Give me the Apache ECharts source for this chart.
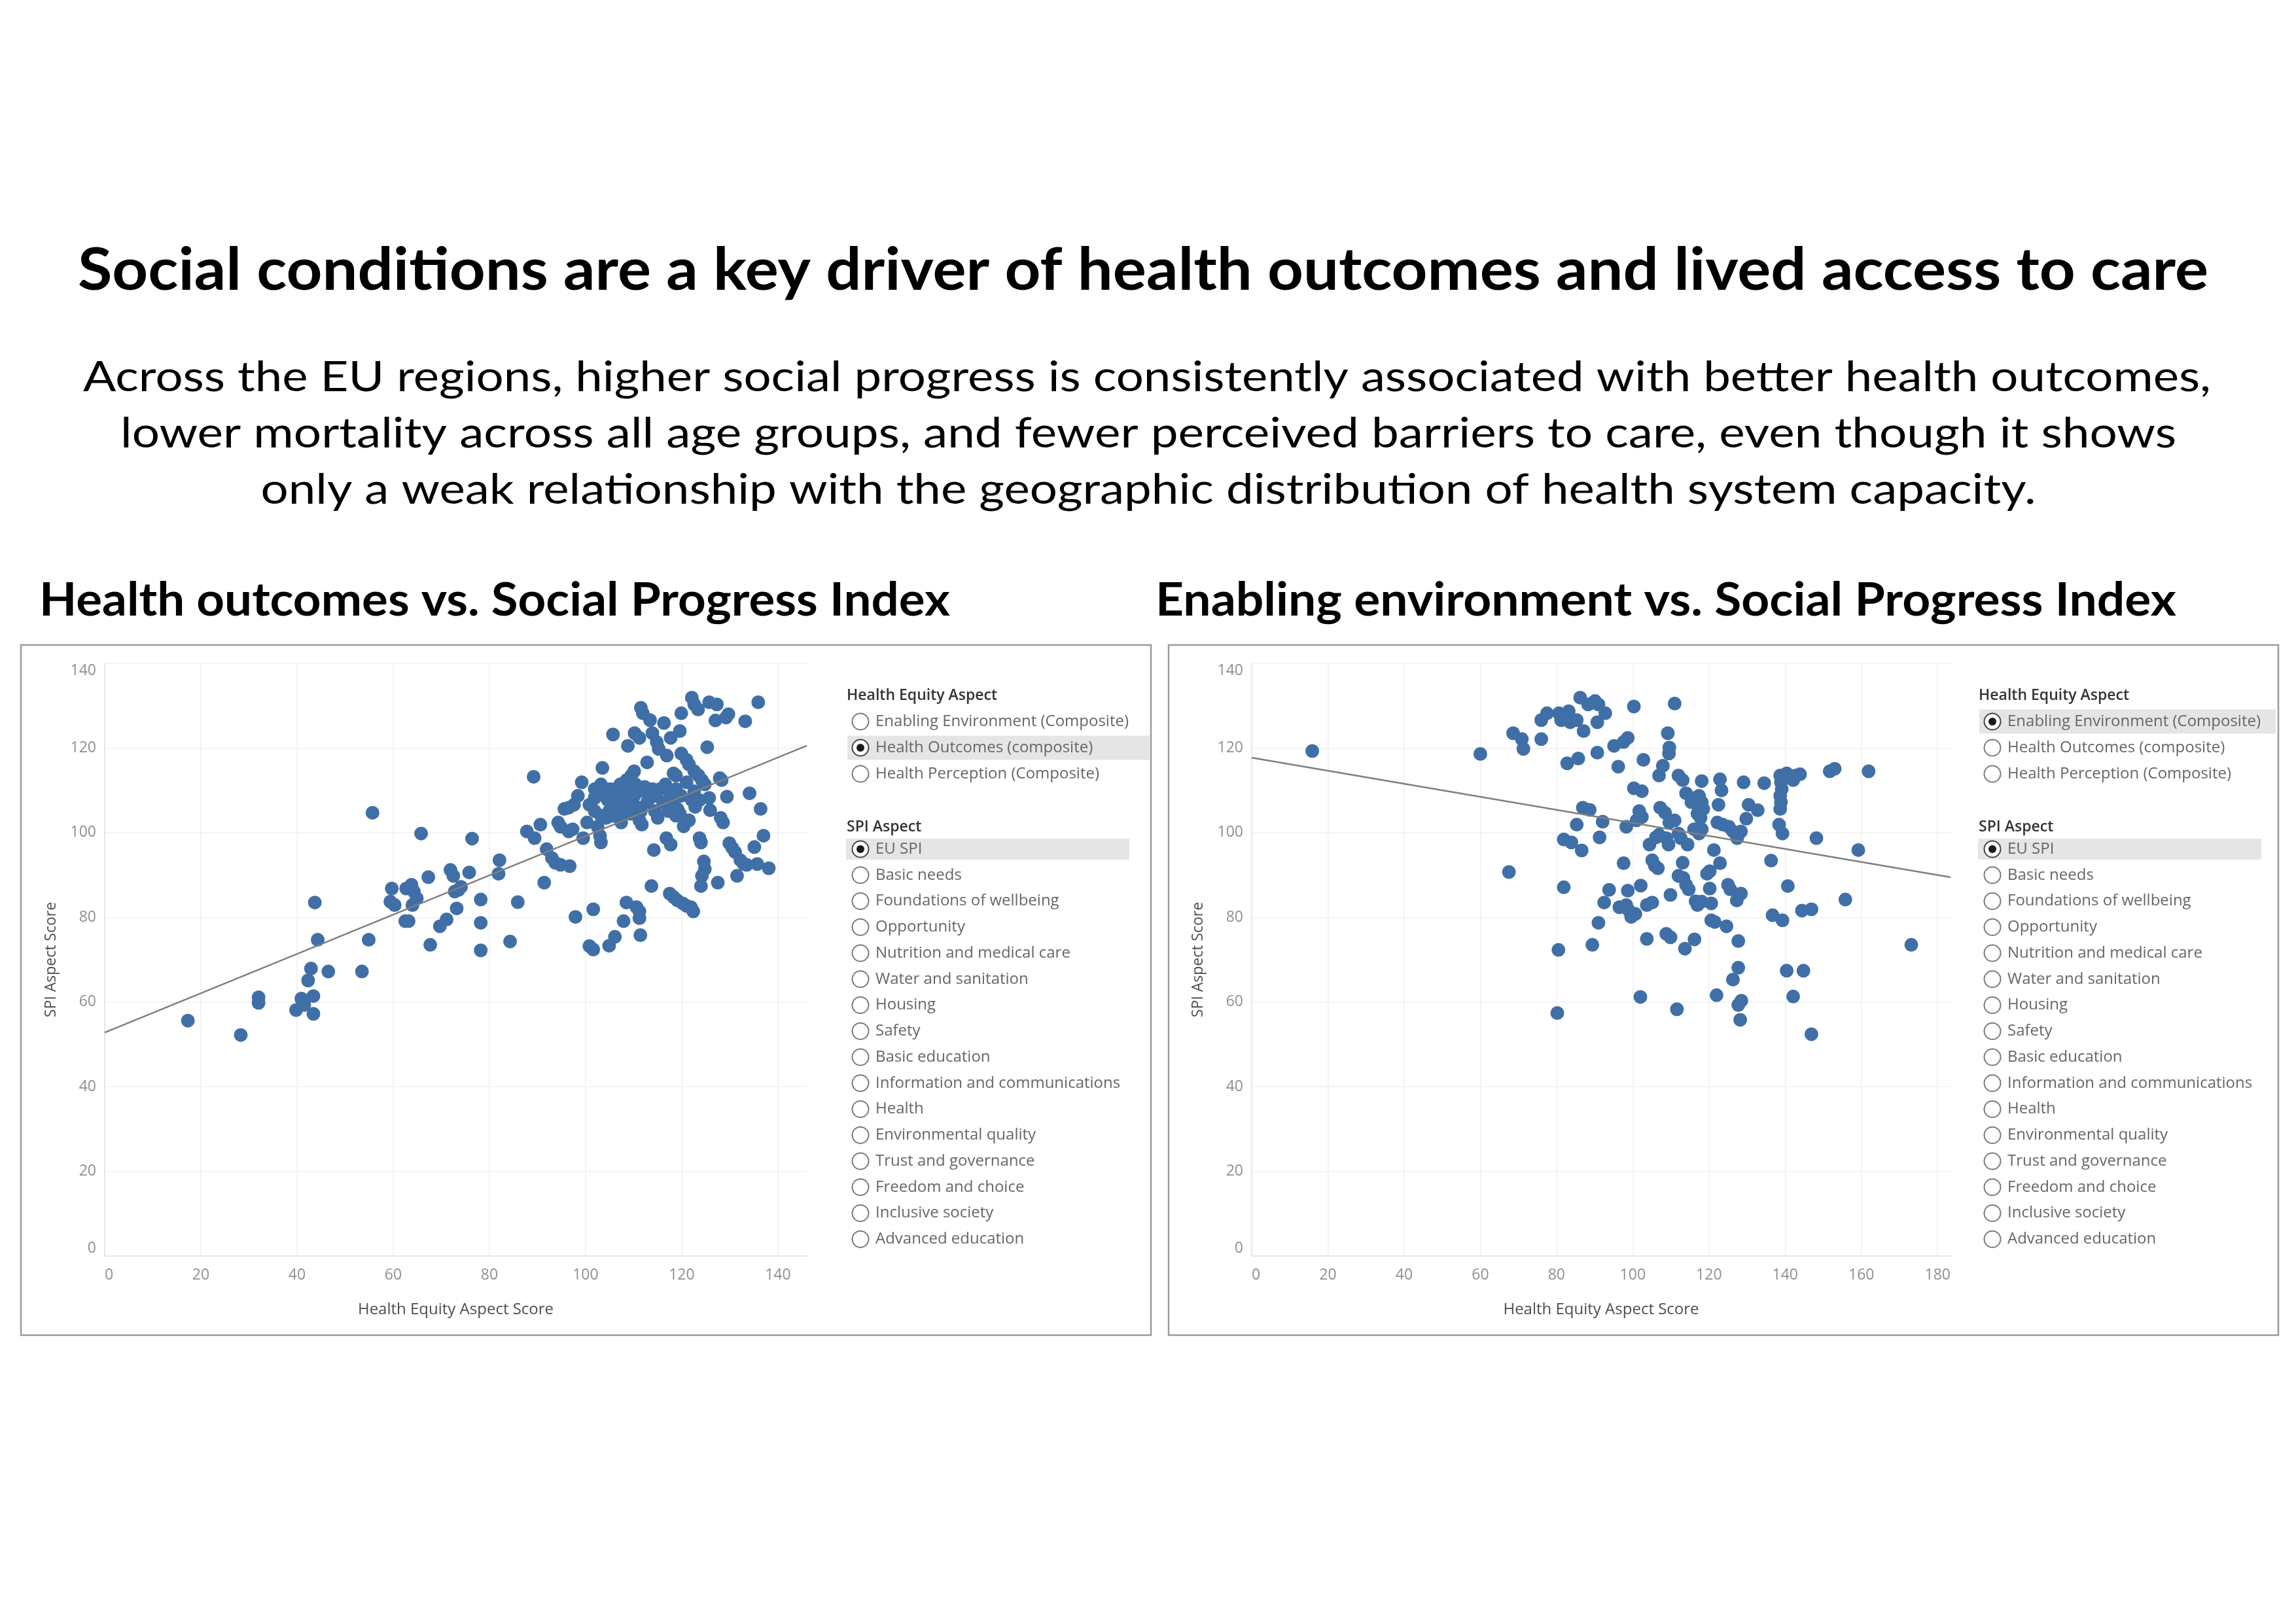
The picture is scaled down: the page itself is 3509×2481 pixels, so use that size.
<!DOCTYPE html>
<html>
<head>
<meta charset="utf-8">
<script src="https://cdn.jsdelivr.net/npm/echarts@6/dist/echarts.min.js"></script>
<style>
html,body{margin:0;padding:0;background:#fff;}
#main{width:3509px;height:2481px;}
</style>
</head>
<body>
<div id="main"></div>
<script>
// ---------------- DATA ----------------
const mainTitle = 'Social conditions are a key driver of health outcomes and lived access to care';
const subtitleLines = [
  'Across the EU regions, higher social progress is consistently associated with better health outcomes,',
  'lower mortality across all age groups, and fewer perceived barriers to care, even though it shows',
  'only a weak relationship with the geographic distribution of health system capacity.'
];
const leftHeader = 'Health outcomes vs. Social Progress Index';
const rightHeader = 'Enabling environment vs. Social Progress Index';
const xAxisTitle = 'Health Equity Aspect Score';
const yAxisTitle = 'SPI Aspect Score';

const equityAspectTitle = 'Health Equity Aspect';
const equityAspects = ['Enabling Environment (Composite)', 'Health Outcomes (composite)', 'Health Perception (Composite)'];
const spiAspectTitle = 'SPI Aspect';
const spiAspects = ['EU SPI', 'Basic needs', 'Foundations of wellbeing', 'Opportunity', 'Nutrition and medical care',
  'Water and sanitation', 'Housing', 'Safety', 'Basic education', 'Information and communications', 'Health',
  'Environmental quality', 'Trust and governance', 'Freedom and choice', 'Inclusive society', 'Advanced education'];
const leftSelectedEquity = 1;   // Health Outcomes
const rightSelectedEquity = 0;  // Enabling Environment
const selectedSpi = 0;          // EU SPI

const yTicks = [0, 20, 40, 60, 80, 100, 120, 140];
const leftXTicks = [0, 20, 40, 60, 80, 100, 120, 140];
const rightXTicks = [0, 20, 40, 60, 80, 100, 120, 140, 160, 180];
const leftXMax = 146;
const rightXMax = 183.4;
const yMax = 140;

// trend lines [intercept, slope]
const leftTrend = [52.8, 0.464];
const rightTrend = [117.7, -0.154];

// [Health Equity Aspect Score (Health Outcomes), SPI Aspect Score]
const healthOutcomesPoints = [
  [17.3,55.6],[28.3,52.2],[32.0,61.1],[32.0,59.8],[39.8,58.1],[40.9,60.8],[41.5,59.3],[42.3,65.1],[42.9,67.9],[43.4,61.4],
  [43.4,57.2],[43.7,83.5],[44.3,74.7],[46.5,67.2],[53.5,67.2],[54.9,74.7],[55.7,104.7],[59.7,86.8],[59.4,83.7],[60.3,82.9],
  [62.7,86.8],[62.5,79.1],[63.2,79.1],[63.8,87.7],[64.3,86.1],[64.9,84.5],[64.0,82.9],[65.8,99.8],[67.3,89.5],[67.7,73.5],
  [69.7,77.9],[71.1,79.5],[71.9,91.2],[72.5,89.8],[72.8,86.1],[73.6,86.5],[74.1,87.2],[73.2,82.1],[75.8,90.6],[76.4,98.6],
  [78.2,84.2],[78.2,78.7],[78.2,72.2],[81.9,90.3],[82.1,93.5],[84.3,74.3],[85.9,83.6],[87.8,100.3],[89.2,113.2],[89.4,98.7],
  [90.6,101.9],[91.4,88.2],[91.9,96.1],[93.0,94.0],[93.7,92.9],[94.8,92.4],[94.3,102.4],[94.8,101.4],[95.6,105.6],[96.5,105.9],
  [97.6,106.6],[96.7,92.1],[97.9,80.1],[96.5,100.3],[97.3,100.8],[98.4,108.7],[99.2,111.9],[99.5,98.7],[100.3,102.4],[100.8,73.2],
  [101.6,72.4],[101.6,81.9],[101.9,108.2],[102.5,101.4],[103.0,99.3],[103.2,97.7],[103.5,115.3],[103.2,111.4],[104.1,110.3],[104.6,107.7],
  [104.9,105.1],[104.9,73.3],[106.1,75.4],[105.7,123.2],[106.3,107.2],[106.8,105.6],[107.4,108.2],[107.4,102.4],[107.9,79.1],[108.5,83.5],
  [108.8,120.5],[108.5,112.4],[109.0,109.8],[109.5,113.5],[109.8,108.2],[110.1,114.5],[110.4,111.4],[110.6,82.4],[111.2,81.4],[111.2,79.8],
  [111.4,75.8],[111.5,129.5],[111.9,128.2],[110.2,123.5],[111.2,122.4],[111.2,102.9],[111.7,101.9],[111.5,105.1],[112.8,116.6],[113.4,126.6],
  [113.9,110.3],[114.4,108.7],[113.7,87.4],[114.2,95.9],[113.9,123.5],[114.8,121.4],[115.2,119.8],[114.4,105.1],[115.0,103.5],[116.3,125.9],
  [116.8,98.7],[117.7,97.2],[117.5,85.6],[118.3,84.8],[119.1,84.0],[116.9,118.2],[117.7,122.4],[118.3,114.0],[118.8,113.5],[119.1,105.6],
  [118.8,104.0],[119.6,124.0],[119.9,128.2],[120.2,83.3],[121.0,82.7],[120.4,101.5],[119.9,118.7],[121.0,117.2],[121.5,116.1],[121.9,82.4],
  [122.4,81.4],[122.1,131.9],[122.6,130.3],[123.4,129.1],[122.8,106.1],[122.6,114.5],[123.5,113.5],[124.2,112.4],[124.8,111.4],[123.7,98.7],
  [124.0,97.7],[124.6,93.2],[124.8,91.4],[124.2,89.8],[124.0,87.4],[125.3,120.2],[125.7,130.8],[125.7,108.2],[125.9,105.3],[127.3,130.3],
  [127.0,126.5],[127.5,88.2],[127.9,112.9],[128.3,112.4],[128.1,103.5],[128.6,102.4],[129.2,127.2],[129.7,128.0],[129.4,108.5],[129.9,97.5],
  [130.5,96.4],[131.1,95.4],[131.5,89.8],[132.2,93.5],[132.9,92.6],[133.5,92.4],[133.2,126.3],[134.1,109.3],[135.1,96.6],[135.7,92.6],
  [135.9,130.8],[136.4,105.6],[137.0,99.3],[138.1,91.6],
  [101.9,110.3],[102.8,109.3],[103.9,108.7],[105.2,110.3],[106.3,109.8],[107.2,111.4],[108.2,108.7],[109.0,107.2],[110.1,108.7],[111.2,109.8],
  [112.3,110.8],[113.4,108.2],[115.5,110.3],[116.6,111.4],[117.7,108.7],[118.8,110.3],[119.9,108.7],[121.0,111.9],[122.6,109.8],[123.7,107.7],
  [100.8,106.6],[101.9,105.1],[103.2,104.0],[104.3,103.5],[105.7,104.0],[107.4,105.1],[109.3,104.5],[110.6,106.1],[112.8,107.2],[116.1,107.2],
  [117.2,105.1],[118.3,107.2],[119.6,104.5],[121.5,102.9],[122.1,107.7]
];

// [Health Equity Aspect Score (Enabling Environment), SPI Aspect Score]
const enablingEnvironmentPoints = [
  [15.9,119.3],[60.0,118.6],[67.5,90.7],[68.6,123.5],[70.9,122.1],[71.3,119.8],[76.0,122.1],[76.0,126.6],[77.5,128.2],[80.6,128.2],
  [81.2,126.6],[83.2,128.7],[83.6,126.1],[85.3,126.6],[86.2,131.9],[87.1,124.0],[82.8,116.4],[85.7,117.5],[88.3,130.3],[90.1,131.1],
  [91.0,130.3],[90.7,126.1],[92.8,128.2],[90.7,118.9],[80.5,72.3],[80.2,57.4],[81.9,87.1],[81.9,98.4],[83.9,97.7],[85.3,101.9],
  [86.9,105.9],[88.7,105.4],[86.6,95.8],[89.4,73.5],[91.3,98.9],[92.1,102.6],[91.0,78.7],[92.5,83.5],[93.8,86.5],[95.1,120.5],
  [96.2,115.6],[97.6,121.4],[98.7,122.4],[97.6,92.8],[98.3,101.4],[96.5,82.4],[98.3,82.9],[99.0,81.6],[99.6,80.1],[100.7,80.8],
  [98.7,86.3],[100.3,129.8],[100.3,110.5],[102.4,109.8],[101.7,105.1],[101.0,102.9],[102.4,103.7],[102.1,87.5],[102.0,61.2],[102.8,117.2],
  [103.7,74.9],[104.4,97.2],[105.1,93.5],[105.8,92.2],[106.6,91.6],[103.7,82.9],[105.1,83.5],[106.1,98.9],[106.9,99.5],[106.9,113.5],
  [107.2,105.9],[108.5,104.7],[107.9,115.8],[108.8,98.7],[109.4,97.2],[109.2,123.5],[109.6,120.1],[109.5,118.7],[108.8,76.1],[109.9,75.3],
  [109.9,85.3],[109.6,102.4],[111.0,102.9],[111.0,130.5],[111.6,58.3],[112.0,99.8],[112.6,98.7],[112.0,113.5],[113.1,112.4],[112.0,89.8],
  [113.3,89.3],[114.0,87.7],[114.7,86.6],[113.1,92.9],[113.7,72.6],[114.0,109.3],[114.4,97.2],[115.4,107.2],[116.5,108.2],[117.4,108.7],
  [118.1,107.2],[118.5,105.6],[117.0,104.5],[117.8,103.5],[116.1,100.8],[116.2,74.8],[116.5,83.8],[117.0,82.9],[118.1,83.7],[118.1,112.2],
  [117.4,99.8],[118.1,100.8],[119.5,90.3],[120.2,90.9],[120.2,86.8],[120.6,83.3],[120.6,79.3],[121.5,78.9],[121.3,95.9],[122.0,61.6],
  [122.2,102.4],[123.6,101.9],[122.5,106.6],[122.9,112.6],[123.3,110.0],[122.9,92.8],[124.6,77.9],[125.0,87.7],[125.6,86.6],[125.2,101.4],
  [126.3,100.3],[127.4,98.7],[128.4,100.3],[127.7,99.6],[126.3,65.3],[127.3,84.0],[128.4,85.6],[127.7,74.4],[127.7,68.1],[127.7,59.3],
  [128.5,60.3],[128.2,55.8],[129.1,111.9],[129.8,103.3],[130.4,106.6],[132.8,105.3],[134.5,111.7],[136.3,93.4],[136.7,80.5],[138.7,113.5],
  [138.9,111.9],[139.1,110.3],[138.7,108.7],[138.9,107.2],[138.7,105.6],[138.4,101.9],[139.3,99.8],[139.3,79.3],[140.4,114.0],[142.1,112.4],
  [142.8,113.5],[143.9,113.8],[140.7,87.4],[140.4,67.4],[142.1,61.3],[144.4,81.6],[146.9,81.9],[144.8,67.4],[146.9,52.4],[148.2,98.7],
  [151.7,114.5],[153.0,115.1],[155.8,84.2],[159.2,95.9],[161.9,114.5],[173.1,73.5]
];

// ---------------- STYLE / LAYOUT ----------------
const DOT = '#3f6fa6';
const TREND = '#7f7f7f';
const GRIDLINE = '#f3f3f3';
const TICKCOL = '#8f8f8f';
const AXTITLE = '#4d4d4d';
const UIFONT = 'Open Sans';
const HEADFONT = 'Lato';

const cv = document.createElement('canvas').getContext('2d');
function fitScale(text, weight, size, family, target) {
  cv.font = weight + ' ' + size + 'px "' + family + '"';
  const w = cv.measureText(text).width;
  return w > 0 ? target / w : 1;
}
function bigText(text, x, y, weight, size, targetW, align) {
  return {
    type: 'text', x: x, y: y, scaleX: fitScale(text, weight, size, HEADFONT, targetW), z: 10,
    style: {
      text: text, fill: '#000', fontFamily: HEADFONT, fontWeight: weight, fontSize: size,
      align: align, verticalAlign: 'middle', textAlign: align, textVerticalAlign: 'middle'
    }
  };
}

const graphics = [];
// main title and subtitle
graphics.push(bigText(mainTitle, 1747, 414, 'bold', 90, 3256, 'center'));
const subCenters = [[1753, 578, 3252], [1755, 664, 3142], [1755, 750, 2713]];
subtitleLines.forEach((t, i) => graphics.push(bigText(t, subCenters[i][0], subCenters[i][1], 'normal', 63, subCenters[i][2], 'center')));
// section headers
graphics.push(bigText(leftHeader, 60, 918, 'bold', 70, 1392, 'left'));
graphics.push(bigText(rightHeader, 1766, 918, 'bold', 70, 1560, 'left'));

// chart frames
[[32, 1759], [1786, 3482]].forEach(([x0, x1]) => graphics.push({
  type: 'rect', z: 1, shape: { x: x0, y: 986, width: x1 - x0, height: 2041 - 986 },
  style: { fill: 'none', stroke: '#9a9a9a', lineWidth: 2.5 }
}));

// parameter controls (radio lists)
function radioPanel(titleX, cx, textX, bandRight, bandRightSpi, selEq) {
  const eqY = [1103, 1143, 1183];
  const spiY0 = 1298, spiStep = 39.75;
  graphics.push({ type: 'rect', z: 2, shape: { x: titleX + 1, y: eqY[selEq] - 18.5, width: bandRight - titleX - 1, height: 37 }, style: { fill: '#e5e5e5' } });
  graphics.push({ type: 'rect', z: 2, shape: { x: titleX - 1, y: spiY0 + selectedSpi * spiStep - 16, width: bandRightSpi - titleX + 1, height: 32 }, style: { fill: '#e5e5e5' } });
  const title = (t, y) => graphics.push({ type: 'text', z: 5, x: titleX, y: y, style: { text: t, fill: '#333', fontFamily: UIFONT, fontWeight: 600, fontSize: 23, align: 'left', verticalAlign: 'middle', textAlign: 'left', textVerticalAlign: 'middle' } });
  const item = (t, y, sel) => {
    graphics.push({ type: 'circle', z: 5, shape: { cx: cx, cy: y, r: 12.5 }, style: { fill: '#fff', stroke: sel ? '#444' : '#7a7a7a', lineWidth: 2 } });
    if (sel) graphics.push({ type: 'circle', z: 6, shape: { cx: cx, cy: y, r: 6 }, style: { fill: '#1a1a1a' } });
    graphics.push({ type: 'text', z: 5, x: textX, y: y, style: { text: t, fill: '#666', fontFamily: UIFONT, fontSize: 24, align: 'left', verticalAlign: 'middle', textAlign: 'left', textVerticalAlign: 'middle' } });
  };
  title(equityAspectTitle, 1063);
  equityAspects.forEach((t, i) => item(t, eqY[i], i === selEq));
  title(spiAspectTitle, 1264);
  spiAspects.forEach((t, i) => item(t, spiY0 + i * spiStep, i === selectedSpi));
}
radioPanel(1294, 1315, 1338, 1757, 1726, leftSelectedEquity);
radioPanel(3024, 3045, 3068, 3478, 3456, rightSelectedEquity);

// ---------------- AXES ----------------
function xAxisDef(idx, max, ticks) {
  return {
    gridIndex: idx, type: 'value', min: 0, max: max, interval: 20,
    name: xAxisTitle, nameLocation: 'middle', nameGap: 70,
    nameTextStyle: { color: AXTITLE, fontFamily: UIFONT, fontSize: 24 },
    axisLine: { show: true, lineStyle: { color: '#e6e6e6', width: 2 } },
    axisTick: { show: false, customValues: ticks },
    axisLabel: { customValues: ticks, color: TICKCOL, fontFamily: UIFONT, fontSize: 23, margin: 18, alignMinLabel: 'left' },
    splitLine: { show: true, lineStyle: { color: GRIDLINE, width: 2 } }
  };
}
function yAxisDef(idx) {
  return {
    gridIndex: idx, type: 'value', min: 0, max: yMax, interval: 20,
    name: yAxisTitle, nameLocation: 'middle', nameGap: 70, nameRotate: 90,
    nameTextStyle: { color: AXTITLE, fontFamily: UIFONT, fontSize: 23 },
    axisLine: { show: true, lineStyle: { color: '#e6e6e6', width: 2 } },
    axisTick: { show: false, customValues: yTicks },
    axisLabel: { customValues: yTicks, color: TICKCOL, fontFamily: UIFONT, fontSize: 23, margin: 13,
      verticalAlignMinLabel: 'bottom', verticalAlignMaxLabel: 'top' },
    splitLine: { show: true, lineStyle: { color: GRIDLINE, width: 2 } }
  };
}
function trendData(tr, max) {
  return [[0, tr[0]], [max, tr[0] + tr[1] * max]];
}

const option = {
  animation: false,
  backgroundColor: '#ffffff',
  grid: [
    { left: 160, top: 1014, width: 1073, height: 906 },
    { left: 1913, top: 1014, width: 1068, height: 906 }
  ],
  xAxis: [xAxisDef(0, leftXMax, leftXTicks), xAxisDef(1, rightXMax, rightXTicks)],
  yAxis: [yAxisDef(0), yAxisDef(1)],
  graphic: { elements: graphics },
  series: [
    { type: 'scatter', xAxisIndex: 0, yAxisIndex: 0, data: healthOutcomesPoints, symbolSize: 21,
      itemStyle: { color: DOT, opacity: 1 }, z: 2, silent: true },
    { type: 'line', xAxisIndex: 0, yAxisIndex: 0, data: trendData(leftTrend, leftXMax), showSymbol: false,
      lineStyle: { color: TREND, width: 2.5 }, z: 3, silent: true },
    { type: 'scatter', xAxisIndex: 1, yAxisIndex: 1, data: enablingEnvironmentPoints, symbolSize: 21,
      itemStyle: { color: DOT, opacity: 1 }, z: 2, silent: true },
    { type: 'line', xAxisIndex: 1, yAxisIndex: 1, data: trendData(rightTrend, rightXMax), showSymbol: false,
      lineStyle: { color: TREND, width: 2.5 }, z: 3, silent: true }
  ]
};

const chart = echarts.init(document.getElementById('main'), null, { renderer: 'canvas', width: 3509, height: 2481 });
chart.setOption(option);
</script>
</body>
</html>
